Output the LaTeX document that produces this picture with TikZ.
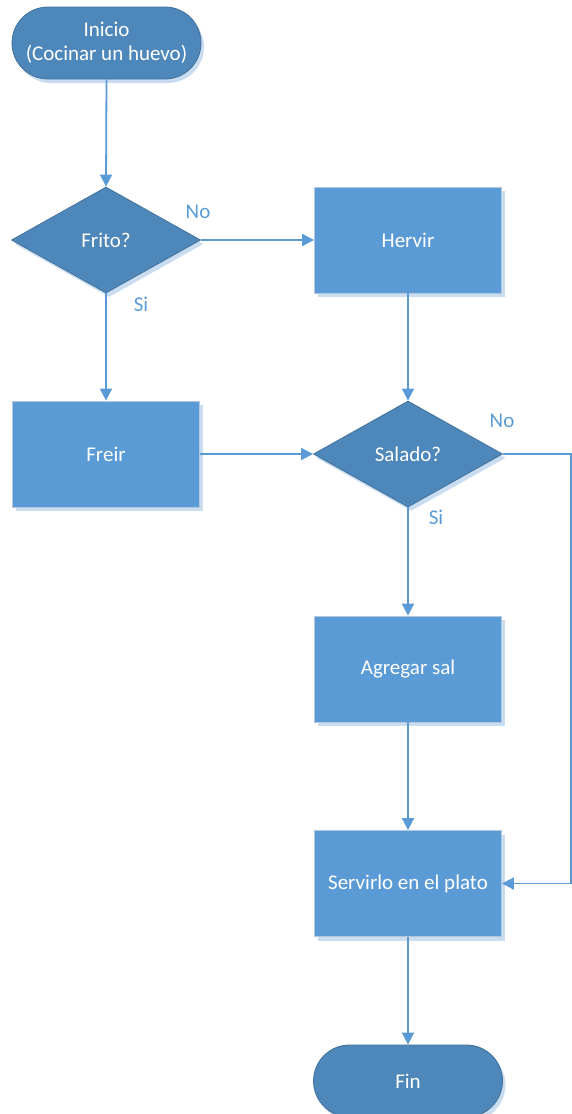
\documentclass[tikz,border=0pt]{standalone}
\usepackage{fontspec}
\setmainfont{Carlito}
\usetikzlibrary{shapes.geometric,arrows.meta,shadows}
\definecolor{termfill}{HTML}{4E87BA}
\definecolor{termline}{HTML}{41719C}
\definecolor{boxfill}{HTML}{5B9BD5}
\definecolor{boxline}{HTML}{B4C7DC}
\definecolor{linkblue}{HTML}{5B9BD5}
\definecolor{shadowblue}{HTML}{C9DCF0}
\begin{document}
\begin{tikzpicture}[x=1pt,y=-1pt,
  font=\fontsize{21}{24}\selectfont,
  softshadow/.style={drop shadow={shadow xshift=3pt,shadow yshift=-4pt,fill=shadowblue,opacity=1}},
  terminal/.style={rectangle,rounded corners=36pt,minimum width=189pt,minimum height=72pt,
    fill=termfill,draw=termline,line width=0.8pt,text=white,align=center,inner sep=0pt,softshadow},
  decision/.style={diamond,minimum width=189pt,minimum height=106pt,inner sep=0pt,
    fill=termfill,draw=termline,line width=0.8pt,text=white,softshadow},
  process/.style={rectangle,minimum width=187pt,minimum height=106pt,
    fill=boxfill,draw=boxline,line width=0.8pt,text=white,softshadow},
  link/.style={draw=linkblue,line width=1.8pt},
  arrowlink/.style={link,-{Triangle[length=12pt,width=12pt]}},
  lbl/.style={text=linkblue,inner sep=0pt}]
\useasboundingbox (0,0) rectangle (572,1114);

% shapes of the flow
\node[terminal] (start) at (106.5,43) {Inicio\\(Cocinar un huevo)};
\node[decision] (frito) at (106,240) {Frito?};
\node[process] (hervir) at (408,240) {Hervir};
\node[process] (freir) at (106,454) {Freir};
\node[decision] (salado) at (408,454) {Salado?};
\node[process] (agregar) at (408,669) {Agregar sal};
\node[process] (servir) at (408,883.5) {Servirlo en el plato};
\node[terminal] (fin) at (408,1081) {Fin};

% connectors
\draw[arrowlink] (start.south) -- (frito.north);
\draw[arrowlink] (frito.east) -- (hervir.west);
\draw[arrowlink] (frito.south) -- (freir.north);
\draw[arrowlink] (hervir.south) -- (salado.north);
\draw[arrowlink] (freir.east) -- (salado.west);
\draw[arrowlink] (salado.south) -- (agregar.north);
\coordinate (edgeTop) at (571,454);
\coordinate (edgeBot) at (571,883.5);
\draw[link,-{Triangle[length=12pt,width=12pt]}] (salado.east) -- (edgeTop) -- (edgeBot) -- (servir.east);
\draw[arrowlink] (agregar.south) -- (servir.north);
\draw[arrowlink] (servir.south) -- (fin.north);

% branch labels
\node[lbl] (noA) at (198,212) {No};
\node[lbl] (siA) at (141,304) {Si};
\node[lbl] (noB) at (502,421) {No};
\node[lbl] (siB) at (436,517) {Si};
\end{tikzpicture}
\end{document}
